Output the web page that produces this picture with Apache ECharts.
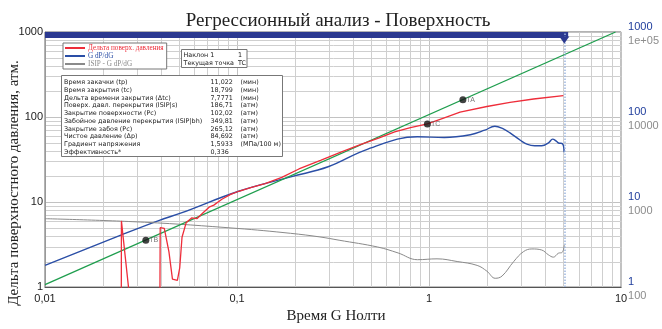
<!DOCTYPE html>
<html><head><meta charset="utf-8">
<script src="https://cdn.jsdelivr.net/npm/echarts@6/dist/echarts.min.js"></script>
<style>html,body{margin:0;padding:0;background:#fff}#c{width:662px;height:329px}</style>
</head><body><div id="c"></div>
<script>
const titleText = 'Регрессионный анализ - Поверхность';
const xAxisName = 'Время G Нолти';
const yAxisName = 'Дельта поверхностного давления, атм.';
const nameRed = 'Дельта поверх. давления';
const nameBlue = 'G dP/dG';
const nameGray = 'ISIP - G dP/dG';
const nameGreen = 'Наклон 1';

// Delta surface pressure (left axis)
const redX = [0.02495, 0.0250, 0.0275, 0.030, 0.0396, 0.0398, 0.0418, 0.0442, 0.0461, 0.0489, 0.0503, 0.0517, 0.0543, 0.058, 0.062, 0.0657, 0.072, 0.0757, 0.0834, 0.0926, 0.102, 0.119, 0.14, 0.171, 0.21, 0.274, 0.35, 0.442, 0.55, 0.662, 0.8, 0.98, 1.2, 1.45, 2.0, 2.64, 3.5, 5.0];
const redY = [0.3, 6.0, 0.8, 0.3, 0.3, 5.0, 4.9, 2.6, 1.24, 1.2, 1.68, 3.86, 5.7, 6.5, 6.4, 7.3, 8.8, 9.2, 10.8, 12.3, 13.4, 14.9, 16.5, 19.5, 24.5, 31.2, 39, 47.7, 57, 67, 75, 83, 98, 114, 133, 149, 163, 179];

// G dP/dG (right blue axis)
const blueX = [0.01, 0.0252, 0.0394, 0.0517, 0.102, 0.1926, 0.298, 0.48, 0.87, 1.2, 1.64, 1.95, 2.2, 2.45, 2.64, 3.0, 3.23, 3.55, 3.86, 4.2, 4.4, 4.6, 4.72, 4.95, 5.05];
const blueY = [1.8, 4.14, 6.1, 7.5, 13.4, 19.9, 26, 42, 58.6, 57.5, 62, 70, 78, 72, 65, 53, 48, 46, 46, 50, 55, 52, 49.5, 48.5, 38.6];

// ISIP - G dP/dG (right gray axis)
const grayX = [0.01, 0.033, 0.1, 0.19, 0.27, 0.34, 0.54, 0.69, 0.87, 1.1, 1.4, 1.78, 2.0, 2.21, 2.4, 2.76, 3.1, 3.43, 3.86, 4.18, 4.44, 4.71, 4.94, 5.06];
const grayY = [638, 579, 490, 429, 389, 356, 296, 252, 210, 215, 200, 180, 154, 127, 135, 200, 261, 281, 273, 240, 225, 250, 257, 312];

// Slope-1 line
const greenX = [0.01, 9.35];
const greenY = [1.07, 1000];

// Marked points
const pointNames = ['TA', 'TB', 'TC'];
const pointX = [1.5, 0.0335, 0.98];
const pointY = [160, 3.55, 83];

// Closure time marker
const shutTime = 5.06;
const bandEnd = 5.3;

// Legend / info boxes
const legendNames = [nameRed, nameBlue, nameGray];
const slopeRows = [['Наклон 1', '1'], ['Текущая точка', 'TC']];
const infoLabels = ['Время закачки (tp)', 'Время закрытия (tc)', 'Дельта времени закрытия (Δtc)', 'Поверх. давл. перекрытия (ISIP|s)', 'Закрытие поверхности (Pc)', 'Забойное давление перекрытия (ISIP|bh)', 'Закрытие забоя (Pc)', 'Чистое давление (Δp)', 'Градиент напряжения', 'Эффективность*'];
const infoValues = ['11,022', '18,799', '7,7771', '186,71', '102,02', '349,81', '265,12', '84,692', '1,5933', '0,336'];
const infoUnits = ['(мин)', '(мин)', '(мин)', '(атм)', '(атм)', '(атм)', '(атм)', '(атм)', '(МПа/100 м)', ''];
const grayTickText = {100: '100', 1000: '1000', 10000: '10000', 100000: '1e+05'};

const zip = (a, b) => a.map((v, i) => [v, b[i]]);

const C_RED = '#ee2d3a', C_BLUE = '#2a4ea6', C_GREEN = '#1f9e4e', C_GRAY = '#8a8a8a', C_NAVY = '#2b3990';

// minor grid lines (log 2..9 per decade)
const minorX = [], minorY = [];
[0.01, 0.1, 1].forEach(d => { for (let k = 2; k <= 9; k++) minorX.push(+(d * k).toPrecision(6)); });
[1, 10, 100].forEach(d => { for (let k = 2; k <= 9; k++) minorY.push(d * k); });

const fmtComma = v => String(+(+v).toPrecision(6)).replace('.', ',');
const fmtInt = v => String(Math.round(v));

const chart = echarts.init(document.getElementById('c'), null, {renderer: 'canvas'});

const SANS = 'Liberation Sans';
const SERIF = 'Liberation Serif';
const BOX = 'DejaVu Sans';
const BOXFS = 6.4;

const graphic = [];
graphic.push({type: 'text', x: 14, y: 183, rotation: Math.PI / 2, style: {text: yAxisName, align: 'center', verticalAlign: 'middle', fontFamily: SERIF, fontSize: 15, fill: '#222'}});
// slope box
graphic.push({type: 'rect', shape: {x: 181.5, y: 49.5, width: 65.5, height: 18}, style: {fill: '#fff', stroke: '#777', lineWidth: 1}, z: 20});
slopeRows.forEach((r, i) => {
  graphic.push({type: 'text', x: 183.5, y: 55 + i * 8.2, z: 21, style: {text: r[0], verticalAlign: 'middle', fontFamily: BOX, fontSize: BOXFS, fill: '#222'}});
  graphic.push({type: 'text', x: 238, y: 55 + i * 8.2, z: 21, style: {text: r[1], verticalAlign: 'middle', fontFamily: BOX, fontSize: BOXFS, fill: '#222'}});
});
// info box
graphic.push({type: 'rect', shape: {x: 61.5, y: 75.5, width: 221, height: 81}, style: {fill: '#fff', stroke: '#777', lineWidth: 1}, z: 20});
infoLabels.forEach((t, i) => {
  const y = 82.3 + i * 7.78;
  graphic.push({type: 'text', x: 64, y, z: 21, style: {text: t, verticalAlign: 'middle', fontFamily: BOX, fontSize: BOXFS, fill: '#222'}});
  graphic.push({type: 'text', x: 210.5, y, z: 21, style: {text: infoValues[i], verticalAlign: 'middle', fontFamily: BOX, fontSize: BOXFS, fill: '#222'}});
  if (infoUnits[i]) graphic.push({type: 'text', x: 240.5, y, z: 21, style: {text: infoUnits[i], verticalAlign: 'middle', fontFamily: BOX, fontSize: BOXFS, fill: '#222'}});
});

const gridLineItem = (a, b) => ({type: 'line', silent: true,
  shape: {x1: Math.round(a[0]) + 0.5, y1: Math.round(a[1]) + 0.5, x2: Math.round(b[0]) + 0.5, y2: Math.round(b[1]) + 0.5},
  style: {stroke: '#cfcfcf', lineWidth: 1}});

const option = {
  animation: false,
  backgroundColor: '#fff',
  title: {text: titleText, left: 333, textAlign: 'center', top: 7, textStyle: {fontFamily: SERIF, fontSize: 19, fontWeight: 'normal', color: '#222'}},
  legend: {
    data: legendNames.map((n, i) => ({name: n, textStyle: {color: [C_RED, C_BLUE, C_GRAY][i]}})),
    orient: 'vertical', left: 63, top: 43, icon: 'rect', itemWidth: 20, itemHeight: 2, itemGap: 0,
    padding: [1, 3, 1, 2], backgroundColor: '#fff', borderColor: '#777', borderWidth: 1, z: 20,
    textStyle: {fontFamily: SERIF, fontSize: 7.2, lineHeight: 8, padding: [0, 0, 0, -2]}, selectedMode: false
  },
  grid: {left: 45, right: 37, top: 32, bottom: 36, show: true, borderColor: '#666', borderWidth: 1, backgroundColor: 'transparent'},
  xAxis: {
    type: 'log', logBase: 10, min: 0.01, max: 10,
    axisLine: {show: true, lineStyle: {color: '#555', width: 1}}, axisTick: {show: false},
    axisLabel: {color: '#222', fontSize: 11, fontFamily: SANS, margin: 6, formatter: fmtComma, showMinLabel: true, showMaxLabel: true},
    splitLine: {show: true, lineStyle: {color: '#c2c2c2', width: 1}},
    name: xAxisName, nameLocation: 'middle', nameGap: 20,
    nameTextStyle: {fontFamily: SERIF, fontSize: 15, color: '#222', padding: [0, 0, 0, 6]}
  },
  yAxis: [
    {type: 'log', logBase: 10, min: 1, max: 1000, position: 'left',
     axisLine: {show: true, lineStyle: {color: '#999'}}, axisTick: {show: false},
     axisLabel: {color: '#222', fontSize: 11, fontFamily: SANS, margin: 2, padding: [0, 0, 3, 0], formatter: fmtInt},
     splitLine: {show: true, lineStyle: {color: '#c2c2c2', width: 1}}},
    {type: 'log', logBase: 10, min: 1, max: 1000, position: 'right',
     axisLine: {show: false}, axisTick: {show: false}, splitLine: {show: false},
     axisLabel: {color: '#1f3d9c', fontSize: 11, fontFamily: SANS, margin: 7, verticalAlign: 'bottom', formatter: fmtInt}},
    {type: 'log', logBase: 10, min: 100, max: 100000, position: 'right',
     axisLine: {show: false}, axisTick: {show: false}, splitLine: {show: false},
     axisLabel: {color: '#8c8c8c', fontSize: 11, fontFamily: SANS, margin: 7, verticalAlign: 'top', padding: [3, 0, 0, 0],
       formatter: v => grayTickText[Math.round(v)] || fmtInt(v)}}
  ],
  graphic,
  series: [
    {name: 'gridX', type: 'custom', z: 0, silent: true, clip: false,
     data: minorX.map(v => [v, 1]),
     renderItem: (params, api) => gridLineItem(api.coord([api.value(0), 1]), api.coord([api.value(0), 1000]))},
    {name: 'gridY', type: 'custom', z: 0, silent: true, clip: false,
     data: minorY.map(v => [0.01, v]),
     renderItem: (params, api) => gridLineItem(api.coord([0.01, api.value(1)]), api.coord([10, api.value(1)]))},
    {name: nameBlue, type: 'line', yAxisIndex: 1, symbol: 'none', smooth: 0.4, z: 3,
     lineStyle: {color: C_BLUE, width: 1.4}, itemStyle: {color: C_BLUE}, data: zip(blueX, blueY)},
    {name: nameGray, type: 'line', yAxisIndex: 2, symbol: 'none', smooth: 0.4, z: 3,
     lineStyle: {color: C_GRAY, width: 1}, itemStyle: {color: C_GRAY}, data: zip(grayX, grayY)},
    {name: nameGreen, type: 'line', symbol: 'none', z: 4,
     lineStyle: {color: C_GREEN, width: 1.3}, itemStyle: {color: C_GREEN}, data: zip(greenX, greenY)},
    {name: nameRed, type: 'line', symbol: 'none', z: 5,
     lineStyle: {color: C_RED, width: 1.3}, itemStyle: {color: C_RED}, data: zip(redX, redY)},
    {name: 'points', type: 'scatter', z: 6, symbolSize: 7, itemStyle: {color: '#111'},
     label: {show: true, position: 'right', distance: 0, fontSize: 7, fontFamily: SANS, color: '#555', formatter: p => p.name},
     data: pointNames.map((n, i) => ({name: n, value: [pointX[i], pointY[i]]}))},
    {name: 'band', type: 'line', z: 7, silent: true, symbol: 'none', data: [[0.01, 1]], lineStyle: {opacity: 0},
     markArea: {silent: true, itemStyle: {color: C_NAVY, opacity: 1}, label: {show: false},
       data: [[{xAxis: 0.01, yAxis: 850}, {xAxis: bandEnd, yAxis: 1000}]]},
     markPoint: {silent: true, symbol: 'triangle', symbolRotate: 180, symbolSize: [10, 7], label: {show: false},
       itemStyle: {color: C_NAVY}, data: [{coord: [shutTime, 850], symbolOffset: [0, 2]}]},
     markLine: {silent: true, symbol: ['none', 'none'], label: {show: false},
       lineStyle: {color: '#9db6de', width: 1.5, type: 'dotted'}, data: [{xAxis: shutTime}]}}
  ]
};
chart.setOption(option);
</script></body></html>
